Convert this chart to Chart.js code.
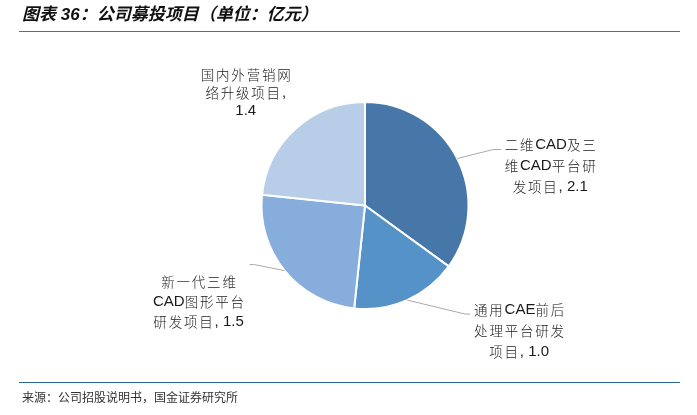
<!DOCTYPE html>
<html>
<head>
<meta charset="utf-8">
<script src="https://cdn.jsdelivr.net/npm/chart.js@4/dist/chart.umd.min.js"></script>
<style>
  html, body { margin: 0; padding: 0; background: #fff; }
  #wrap { position: relative; width: 697px; height: 415px; overflow: hidden; }
  #title {
    position: absolute; left: 22px; top: 4px;
    font: italic bold 17px "Liberation Sans", "Noto Sans CJK SC", sans-serif;
    color: #111; white-space: nowrap; line-height: 22px;
  }
  #topRule { position: absolute; left: 19px; width: 661px; top: 31px; height: 0; border-top: 1.5px solid #4a7196; }
  #bottomRule { position: absolute; left: 19px; width: 661px; top: 382px; height: 0; border-top: 1.5px solid #2a6794; }
  #source {
    position: absolute; left: 22px; top: 389px;
    font: 12px "Noto Sans CJK SC", sans-serif; color: #333; white-space: nowrap; line-height: 16px;
  }
  canvas { position: absolute; left: 0; top: 0; }
</style>
</head>
<body>
<div id="wrap">
  <canvas id="c" width="697" height="415"></canvas>
  <div id="title">图表 36：公司募投项目（单位：亿元）</div>
  <div id="topRule"></div>
  <div id="bottomRule"></div>
  <div id="source">来源：公司招股说明书，国金证券研究所</div>
</div>
<script>
// Fund-raising projects (unit: 100 million yuan)
const categories = [
  '二维CAD及三维CAD平台研发项目',
  '通用CAE前后处理平台研发项目',
  '新一代三维CAD图形平台研发项目',
  '国内外营销网络升级项目'
];
const values = [2.1, 1.0, 1.5, 1.4];
const sliceColors = ['#4677a8', '#5592c8', '#86addb', '#b8cde8'];

// Wrapped label lines; {v} is replaced by the slice value
const labelLines = [
  ['二维CAD及三', '维CAD平台研', '发项目, {v}'],
  ['通用CAE前后', '处理平台研发', '项目, {v}'],
  ['新一代三维', 'CAD图形平台', '研发项目, {v}'],
  ['国内外营销网', '络升级项目,', '{v}']
];

// Label placement relative to each slice's outer-edge midpoint
const labelLayout = [
  { elbow: [36, -9],  tail: 8,  text: [93, -14],  lh: 21 },
  { elbow: [58, 14],  tail: 5,  text: [112, 10],  lh: 21 },
  { elbow: [-30, -6], tail: -5, text: [-86, 11],  lh: 20 },
  { elbow: null,      tail: 0,  text: [-50, -54], lh: 18.3 }
];

const LATIN_FONT = '15px "Liberation Sans", sans-serif';
const CJK_FONT = '300 13.5px "Noto Sans CJK SC", sans-serif';
const CJK_GAP = 1.8;

const isCJK = ch => /[\u3000-\u9fff\uff00-\uffef]/.test(ch);

function drawMixedCentered(ctx, text, cx, cy) {
  const chars = [...text];
  const widths = chars.map(ch => {
    ctx.font = isCJK(ch) ? CJK_FONT : LATIN_FONT;
    return ctx.measureText(ch).width + (isCJK(ch) ? CJK_GAP : 0);
  });
  let total = widths.reduce((a, b) => a + b, 0);
  if (chars.length && isCJK(chars[chars.length - 1])) total -= CJK_GAP;
  let x = cx - total / 2;
  chars.forEach((ch, i) => {
    ctx.font = isCJK(ch) ? CJK_FONT : LATIN_FONT;
    ctx.fillText(ch, x, cy);
    x += widths[i];
  });
}

const sliceLabels = {
  id: 'sliceLabels',
  afterDatasetsDraw(chart) {
    const ctx = chart.ctx;
    const meta = chart.getDatasetMeta(0);
    ctx.save();
    meta.data.forEach((arc, i) => {
      const mid = (arc.startAngle + arc.endAngle) / 2;
      const rx = arc.x + Math.cos(mid) * arc.outerRadius;
      const ry = arc.y + Math.sin(mid) * arc.outerRadius;
      const lay = labelLayout[i];
      if (lay.elbow) {
        const ex = rx + lay.elbow[0], ey = ry + lay.elbow[1];
        ctx.beginPath();
        ctx.strokeStyle = '#a9a9a9';
        ctx.lineWidth = 1;
        ctx.moveTo(rx, ry);
        ctx.lineTo(ex, ey);
        ctx.lineTo(ex + lay.tail, ey);
        ctx.stroke();
      }
      ctx.fillStyle = '#1a1a1a';
      ctx.textBaseline = 'middle';
      ctx.textAlign = 'left';
      const tx = rx + lay.text[0];
      const ty = ry + lay.text[1];
      labelLines[i].forEach((line, k) => {
        const s = line.replace('{v}', values[i].toFixed(1));
        drawMixedCentered(ctx, s, tx, ty + k * lay.lh);
      });
    });
    ctx.restore();
  }
};

new Chart(document.getElementById('c'), {
  type: 'pie',
  data: {
    labels: categories,
    datasets: [{
      data: values,
      backgroundColor: sliceColors,
      borderColor: '#ffffff',
      borderWidth: 2
    }]
  },
  options: {
    responsive: false,
    animation: false,
    events: [],
    layout: { padding: { left: 200, right: 167, top: 101, bottom: 105 } },
    plugins: {
      legend: { display: false },
      tooltip: { enabled: false }
    }
  },
  plugins: [sliceLabels]
});
</script>
</body>
</html>
